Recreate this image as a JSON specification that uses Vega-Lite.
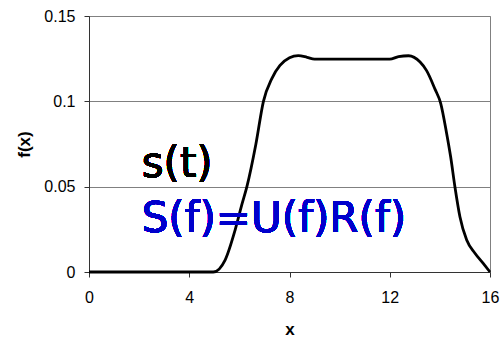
{
  "$schema": "https://vega.github.io/schema/vega-lite/v6.json",
  "autosize": "none",
  "padding": {"left": 89, "top": 16, "right": 10, "bottom": 66},
  "width": 401,
  "height": 256,
  "background": "white",
  "config": {
    "view": {"stroke": "#808080", "strokeWidth": 1},
    "font": "Liberation Sans",
    "axis": {
      "labelFont": "Liberation Sans",
      "titleFont": "Liberation Sans",
      "labelFontSize": 16,
      "labelColor": "#000",
      "titleColor": "#000",
      "titleFontSize": 17,
      "titleFontWeight": "bold",
      "domainColor": "#333",
      "tickColor": "#333",
      "tickSize": 5,
      "gridColor": "#808080",
      "gridOpacity": 1
    }
  },
  "data": {
    "values": [
      {"x": 0, "y": 0},
      {"x": 1, "y": 0},
      {"x": 2, "y": 0},
      {"x": 3, "y": 0},
      {"x": 4, "y": 0},
      {"x": 4.96, "y": 0},
      {"x": 5.43, "y": 0.007},
      {"x": 5.83, "y": 0.0246},
      {"x": 6.09, "y": 0.039},
      {"x": 6.3, "y": 0.05},
      {"x": 6.66, "y": 0.075},
      {"x": 6.96, "y": 0.1},
      {"x": 7.3, "y": 0.1135},
      {"x": 7.62, "y": 0.121},
      {"x": 8.0, "y": 0.1255},
      {"x": 8.35, "y": 0.1268},
      {"x": 8.7, "y": 0.1258},
      {"x": 9, "y": 0.1247},
      {"x": 10, "y": 0.1247},
      {"x": 11, "y": 0.1247},
      {"x": 12, "y": 0.1247},
      {"x": 12.35, "y": 0.1262},
      {"x": 12.75, "y": 0.1267},
      {"x": 13.21, "y": 0.123},
      {"x": 13.47, "y": 0.118},
      {"x": 13.81, "y": 0.107},
      {"x": 14.03, "y": 0.099},
      {"x": 14.27, "y": 0.0812},
      {"x": 14.43, "y": 0.0675},
      {"x": 14.6, "y": 0.05},
      {"x": 14.8, "y": 0.0324},
      {"x": 15.07, "y": 0.0187},
      {"x": 15.4, "y": 0.011},
      {"x": 15.73, "y": 0.005},
      {"x": 16, "y": 0}
    ]
  },
  "layer": [
    {
      "mark": {"type": "line", "color": "#000", "strokeWidth": 2.8, "interpolate": "monotone"},
      "encoding": {
        "x": {
          "field": "x", "type": "quantitative",
          "scale": {"domain": [0, 16], "nice": false},
          "axis": {"values": [0, 4, 8, 12, 16], "grid": false, "title": "x", "labelPadding": 12, "titlePadding": 16, "labelFlush": false}
        },
        "y": {
          "field": "y", "type": "quantitative",
          "scale": {"domain": [0, 0.15], "nice": false},
          "axis": {"values": [0, 0.05, 0.1, 0.15], "format": "~g", "grid": true, "title": "f(x)", "labelPadding": 9, "titlePadding": 10, "labelFlush": false}
        }
      }
    },
    {
      "mark": {"type": "text", "text": "s(t)", "font": "DejaVu Sans", "fontWeight": "normal", "fontSize": 42, "color": "#000", "align": "left", "baseline": "alphabetic"},
      "encoding": {"x": {"datum": 2.1}, "y": {"datum": 0.0556}}
    },
    {
      "mark": {"type": "text", "text": "S(f)=U(f)R(f)", "font": "DejaVu Sans", "fontWeight": "normal", "fontSize": 42, "color": "#0000CC", "align": "left", "baseline": "alphabetic"},
      "encoding": {"x": {"datum": 2.1}, "y": {"datum": 0.0234}}
    }
  ]
}
